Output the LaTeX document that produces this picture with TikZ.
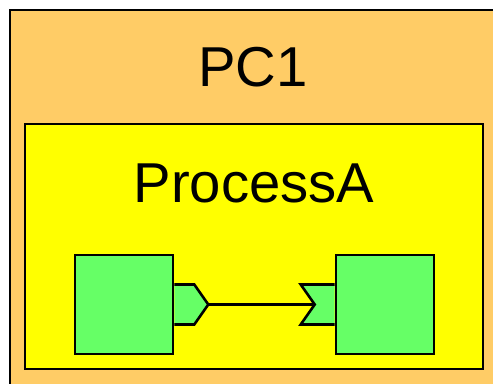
\documentclass[tikz,border=0pt]{standalone}
\usepackage{fontspec}
\setmainfont{Liberation Sans}
\usepackage{tikz}
\usetikzlibrary{calc}
\definecolor{pcOrange}{HTML}{FFCC66}
\definecolor{procYellow}{HTML}{FFFF00}
\definecolor{compGreen}{HTML}{66FF66}
\tikzset{
  hostbox/.style={rectangle,draw=black,fill=pcOrange,
    line width=2.2pt,inner sep=0pt},
  procbox/.style={rectangle,draw=black,fill=procYellow,
    line width=2.2pt,inner sep=0pt},
  compbox/.style={rectangle,draw=black,fill=compGreen,
    line width=2.2pt,inner sep=0pt,
    minimum width=2.94cm,minimum height=2.97cm},
  portshape/.style={draw=black,fill=compGreen,line width=2.2pt,
    line join=miter},
  wire/.style={draw=black,line width=2.2pt},
  bigtxt/.style={font=\fontsize{48}{58}\selectfont,text=black,inner sep=0pt},
}
\begin{document}
\begin{tikzpicture}[x=0.03cm,y=-0.03cm]
  \useasboundingbox (0,0) rectangle (493,383);
  \begin{scope}
  \clip (0,0) rectangle (493,383);
  % host and process
  \node[hostbox,minimum width=14.7cm,minimum height=11.55cm] (pc1) at (255,202.5) {};
  \node[bigtxt,anchor=base] (pc1lbl) at (253,86) {PC1};
  \node[procbox,minimum width=13.74cm,minimum height=7.35cm] (procA) at (254,246.5) {};
  \node[bigtxt,anchor=base] (procAlbl) at (254,202) {ProcessA};

  % components
  \node[compbox] (compA) at (124,304.5) {};
  \node[compbox] (compB) at (385,304.5) {};

  % ports
  \coordinate (outtip) at ($(compA.east)+(34,0)$);
  \coordinate (intip) at ($(compB.west)+(-20,0)$);
  \draw[portshape] ($(compA.east)+(0,-20)$) -- ++(20,0)
    -- (outtip) -- ($(compA.east)+(20,20)$) -- ($(compA.east)+(0,20)$);
  \draw[portshape] ($(compB.west)+(0,-20)$) -- ++(-34,0)
    -- (intip) -- ($(compB.west)+(-34,20)$) -- ($(compB.west)+(0,20)$);

  \draw[wire] (outtip) -- (intip);
  \end{scope}
\end{tikzpicture}
\end{document}
